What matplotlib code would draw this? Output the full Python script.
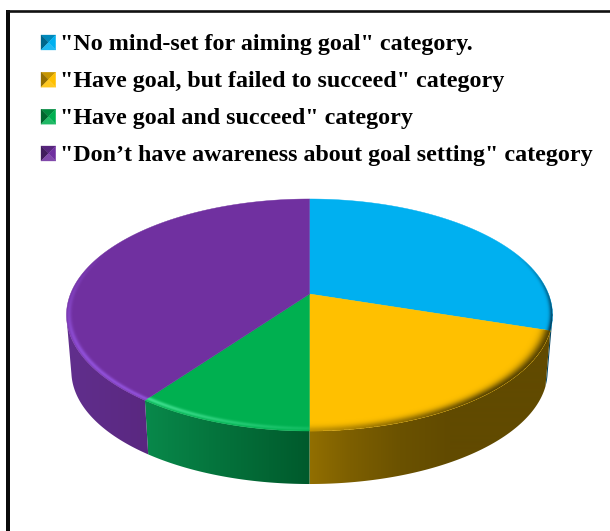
import numpy as np
import matplotlib
matplotlib.use("Agg")
import matplotlib.pyplot as plt
from matplotlib.colors import to_rgb
from matplotlib.patches import Polygon

# Chart content
categories = [
    '"No mind-set for aiming goal" category.',
    '"Have goal, but failed to succeed" category',
    '"Have goal and succeed" category',
    '"Don\u2019t have awareness about goal setting" category',
]
shares = [30, 20, 10, 40]
colors = ["#00B0F0", "#FFC000", "#00B050", "#7030A0"]

# Perspective of the tilted disc, in canvas pixels
CX, APEX_Y = 309.5, 294.0
RADIUS = 239.0
PERSP_C, PERSP_A = -0.181, 59.0
BASE_INSET = 0.98

# Outer wall shading for each slice: (canvas x stops, colours at those stops)
wall_ramps = [
    ([500, 560], ["#00527A", "#003F5F"]),
    ([309, 350, 400, 450, 560], ["#926F00", "#7D5F00", "#6B5200", "#614A00", "#614A00"]),
    ([148, 230, 309], ["#08884A", "#04703A", "#005A2C"]),
    ([60, 150], ["#62308E", "#592780"]),
]


def project(theta, r=1.0):
    """Map a clockwise angle from twelve o'clock onto the canvas."""
    u = r * np.sin(theta)
    v = -r * np.cos(theta)
    w = 1 + PERSP_C * v
    return CX + RADIUS * u / w, (PERSP_A * v + APEX_Y) / w


def mix(rgb, other, t):
    return tuple((1 - t) * a + t * b for a, b in zip(rgb, other))


fig = plt.figure(figsize=(6.10, 5.31), dpi=100, facecolor="white")
ax = fig.add_axes([0, 0, 1, 1])

# Frame: only the left and top edges are in view
ax.plot([8, 8], [531, 10], color="#0a0a0a", lw=2.88, solid_capstyle="butt")
ax.plot([6, 610], [11, 11], color="#111111", lw=1.9, solid_capstyle="butt")

# Slice boundaries, clockwise from twelve o'clock
edges = 2 * np.pi * np.cumsum([0] + shares) / sum(shares)
# Angles where the disc is widest on screen; the wall is visible between them
FRONT_L, FRONT_R = np.deg2rad(102), np.deg2rad(258)

# Outer wall: a horizontal colour ramp clipped to each slice's band
xgrid = np.arange(0, 610) + 0.5
for start, end, (stops, ramp) in zip(edges[:-1], edges[1:], wall_ramps):
    a, b = max(start, FRONT_L), min(end, FRONT_R)
    if b <= a:
        continue
    th = np.linspace(a, b, 200)
    xs, ys = project(th)
    bx = CX + (xs - CX) * BASE_INSET
    by = ys + 53 + 3 * np.sin(th) ** 2
    outline = np.column_stack([np.r_[xs, bx[::-1]], np.r_[ys, by[::-1]]])
    rgb_stops = np.array([to_rgb(c) for c in ramp])
    grad = np.stack([np.interp(xgrid, stops, rgb_stops[:, i]) for i in range(3)], axis=-1)[None, :, :]
    img = ax.imshow(grad, extent=(0, 610, 531, 0), aspect="auto", zorder=2, interpolation="bilinear")
    patch = Polygon(outline, closed=True, transform=ax.transData, facecolor="none", edgecolor="none")
    ax.add_patch(patch)
    img.set_clip_path(patch)

# Top face
for start, end, col in zip(edges[:-1], edges[1:], colors):
    th = np.linspace(start, end, 300)
    px, py = project(th)
    ax.add_patch(Polygon(np.column_stack([np.r_[CX, px], np.r_[APEX_Y, py]]), closed=True,
                         facecolor=col, edgecolor=col, lw=0.3, zorder=3))

# Bevel overlay on the rim, evaluated per pixel in disc coordinates
SS = 3
gx, gy = np.meshgrid((np.arange(610 * SS) + 0.5) / SS, (np.arange(531 * SS) + 0.5) / SS)
v = (gy - APEX_Y) / (PERSP_A - PERSP_C * gy)
u = (gx - CX) * (1 + PERSP_C * v) / RADIUS
rad = np.hypot(u, v)
ang = np.rad2deg(np.arctan2(u, -v)) % 360
inside = 1 - rad


def band(center, width):
    return np.exp(-((inside - center) / width) ** 2)


alpha = np.zeros_like(rad)
rim_rgb = np.zeros(rad.shape + (3,))
deg = np.rad2deg(edges)

# blue: thin dark edge fading away toward the back
m = (ang >= deg[0]) & (ang < deg[1])
alpha[m] = (band(0, 0.012) * np.clip((ang - 65) / 40, 0, 1))[m]
rim_rgb[m] = to_rgb("#003F5F")
# yellow: soft dark edge that widens and strengthens to the right
m = (ang >= deg[1]) & (ang < deg[2])
alpha[m] = (band(0, 0.028) * np.clip(0.35 + (180 - ang) / 60, 0, 1))[m]
rim_rgb[m] = to_rgb("#5A4500")
# green: narrow highlight just inside the edge
m = (ang >= deg[2]) & (ang < deg[3])
alpha[m] = (band(0.016, 0.011) * np.clip(0.25 + (ang - 180) / 50, 0, 1))[m]
rim_rgb[m] = to_rgb("#40E090")
# purple: narrow highlight, gone by the upper left
m = ang >= deg[3]
alpha[m] = (band(0.010, 0.010) * np.clip((295 - ang) / 55, 0, 1))[m]
rim_rgb[m] = to_rgb("#9050D8")

alpha[rad > 1] = 0
rgba = np.dstack([rim_rgb, alpha])
h, w = rad.shape
# Premultiplied box downsample keeps slice borders clean
pm = rgba.copy()
pm[..., :3] *= pm[..., 3:]
small = pm.reshape(h // SS, SS, w // SS, SS, 4).mean(axis=(1, 3))
small[..., :3] = np.where(small[..., 3:] > 1e-4, small[..., :3] / np.maximum(small[..., 3:], 1e-4), 0)
ax.imshow(small, extent=(0, 610, 531, 0), aspect="auto", zorder=4, interpolation="nearest")

# Legend rows with small pyramid-shaded keys
row_y = [42.5, 79.7, 116.7, 153.5]
for label, col, y in zip(categories, colors, row_y):
    rgb = to_rgb(col)
    x0, x1, y0, y1 = 41, 55.7, y - 7.5, y + 7.5
    xm, ym = (x0 + x1) / 2, (y0 + y1) / 2
    faces = [
        ([(x0, y0), (x1, y0), (xm, ym)], mix(rgb, (0, 0, 0), 0.22)),
        ([(x0, y0), (x0, y1), (xm, ym)], mix(rgb, (0, 0, 0), 0.42)),
        ([(x1, y0), (x1, y1), (xm, ym)], rgb),
        ([(x0, y1), (x1, y1), (xm, ym)], mix(rgb, (1, 1, 1), 0.12)),
    ]
    for pts, shade in faces:
        ax.add_patch(Polygon(pts, closed=True, facecolor=shade, edgecolor=shade, lw=0.2, zorder=10))
    ax.text(60, y + 7.5, label, family="Liberation Serif", weight="bold", fontsize=17.3,
            color="black", va="baseline", ha="left", zorder=11)

ax.set_xlim(0, 610)
ax.set_ylim(531, 0)
ax.axis("off")
fig.savefig("out.png", dpi=100, facecolor="white")
